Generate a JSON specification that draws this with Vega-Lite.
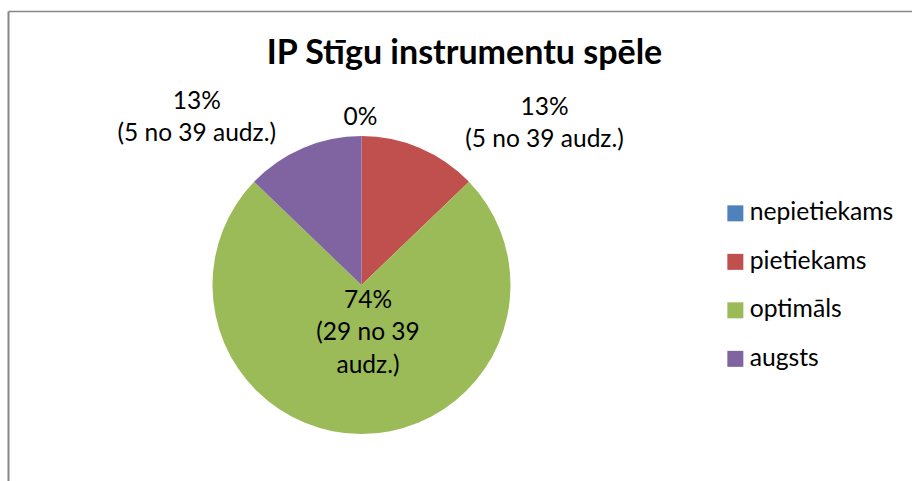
{
  "$schema": "https://vega.github.io/schema/vega-lite/v6.json",
  "autosize": {"type": "none"},
  "width": 904,
  "height": 470,
  "padding": {"left": 8, "top": 11, "right": 0, "bottom": 0},
  "background": "white",
  "view": {"stroke": null, "fill": "white"},
  "config": {
    "font": "Lato"
  },
  "title": {
    "text": "IP Stīgu instrumentu spēle",
    "anchor": "middle",
    "frame": "group",
    "orient": "top",
    "offset": -87,
    "baseline": "alphabetic",
    "dx": 4.5,
    "font": "Lato",
    "fontSize": 34,
    "fontWeight": "bold",
    "color": "#000000"
  },
  "data": {
    "values": [
      {"kategorija": "nepietiekams", "skaits": 0, "seciba": 1, "teksts": "0%"},
      {"kategorija": "pietiekams", "skaits": 5, "seciba": 2, "teksts": "13%\n(5 no 39 audz.)"},
      {"kategorija": "optimāls", "skaits": 29, "seciba": 3, "teksts": "74%\n(29 no 39\naudz.)"},
      {"kategorija": "augsts", "skaits": 5, "seciba": 4, "teksts": "13%\n(5 no 39 audz.)"}
    ]
  },
  "layer": [
    {
      "mark": {"type": "point", "opacity": 0},
      "encoding": {
        "x": {"datum": 0, "type": "quantitative", "scale": {"domain": [0, 1]},
              "axis": {"orient": "top", "title": null, "labels": false, "ticks": false, "grid": false, "domainColor": "#878787", "domainWidth": 1.5}},
        "y": {"datum": 0, "type": "quantitative", "scale": {"domain": [0, 1]},
              "axis": {"orient": "left", "title": null, "labels": false, "ticks": false, "grid": false, "domainColor": "#878787", "domainWidth": 2}}
      }
    },
    {
      "mark": {"type": "arc", "outerRadius": 149, "x": 353.5, "y": 274},
      "encoding": {
        "theta": {"field": "skaits", "type": "quantitative", "stack": true},
        "order": {"field": "seciba", "type": "quantitative"},
        "color": {
          "field": "kategorija",
          "type": "nominal",
          "scale": {
            "domain": ["nepietiekams", "pietiekams", "optimāls", "augsts"],
            "range": ["#4F81BD", "#C0504D", "#9BBB59", "#8064A2"]
          },
          "legend": {
            "title": null,
            "orient": "none",
            "legendX": 715,
            "legendY": 190,
            "padding": 0,
            "symbolType": "square",
            "symbolSize": 256,
            "symbolStrokeWidth": 0,
            "symbolOpacity": 1,
            "labelFont": "Lato",
            "labelFontSize": 24.7,
            "labelColor": "#000000",
            "labelOffset": 2,
            "rowPadding": 22.5,
            "labelLimit": 300
          }
        }
      }
    },
    {
      "mark": {"type": "text", "x": 353.5, "y": 274, "radius": 167.4, "dx": -1, "fontSize": 24.5, "lineBreak": "\n", "lineHeight": 32, "align": "center", "baseline": "middle", "color": "#000000"},
      "encoding": {
        "theta": {"field": "skaits", "type": "quantitative", "stack": true},
        "order": {"field": "seciba", "type": "quantitative"},
        "text": {"condition": {"test": "datum.kategorija === 'nepietiekams'", "field": "teksts"}, "value": ""}}
    },
    {
      "mark": {"type": "text", "x": 353.5, "y": 274, "radius": 192.4, "dx": 107.6, "fontSize": 24.5, "lineBreak": "\n", "lineHeight": 32, "align": "center", "baseline": "middle", "color": "#000000"},
      "encoding": {
        "theta": {"field": "skaits", "type": "quantitative", "stack": true},
        "order": {"field": "seciba", "type": "quantitative"},
        "text": {"condition": {"test": "datum.kategorija === 'pietiekams'", "field": "teksts"}, "value": ""}}
    },
    {
      "mark": {"type": "text", "x": 353.5, "y": 274, "radius": 15.7, "dx": 6.5, "fontSize": 24.5, "lineBreak": "\n", "lineHeight": 32.5, "align": "center", "baseline": "middle", "color": "#000000"},
      "encoding": {
        "theta": {"field": "skaits", "type": "quantitative", "stack": true},
        "order": {"field": "seciba", "type": "quantitative"},
        "text": {"condition": {"test": "datum.kategorija === 'optimāls'", "field": "teksts"}, "value": ""}}
    },
    {
      "mark": {"type": "text", "x": 353.5, "y": 274, "radius": 198.9, "dx": -86.8, "fontSize": 24.5, "lineBreak": "\n", "lineHeight": 32, "align": "center", "baseline": "middle", "color": "#000000"},
      "encoding": {
        "theta": {"field": "skaits", "type": "quantitative", "stack": true},
        "order": {"field": "seciba", "type": "quantitative"},
        "text": {"condition": {"test": "datum.kategorija === 'augsts'", "field": "teksts"}, "value": ""}}
    }
  ]
}
